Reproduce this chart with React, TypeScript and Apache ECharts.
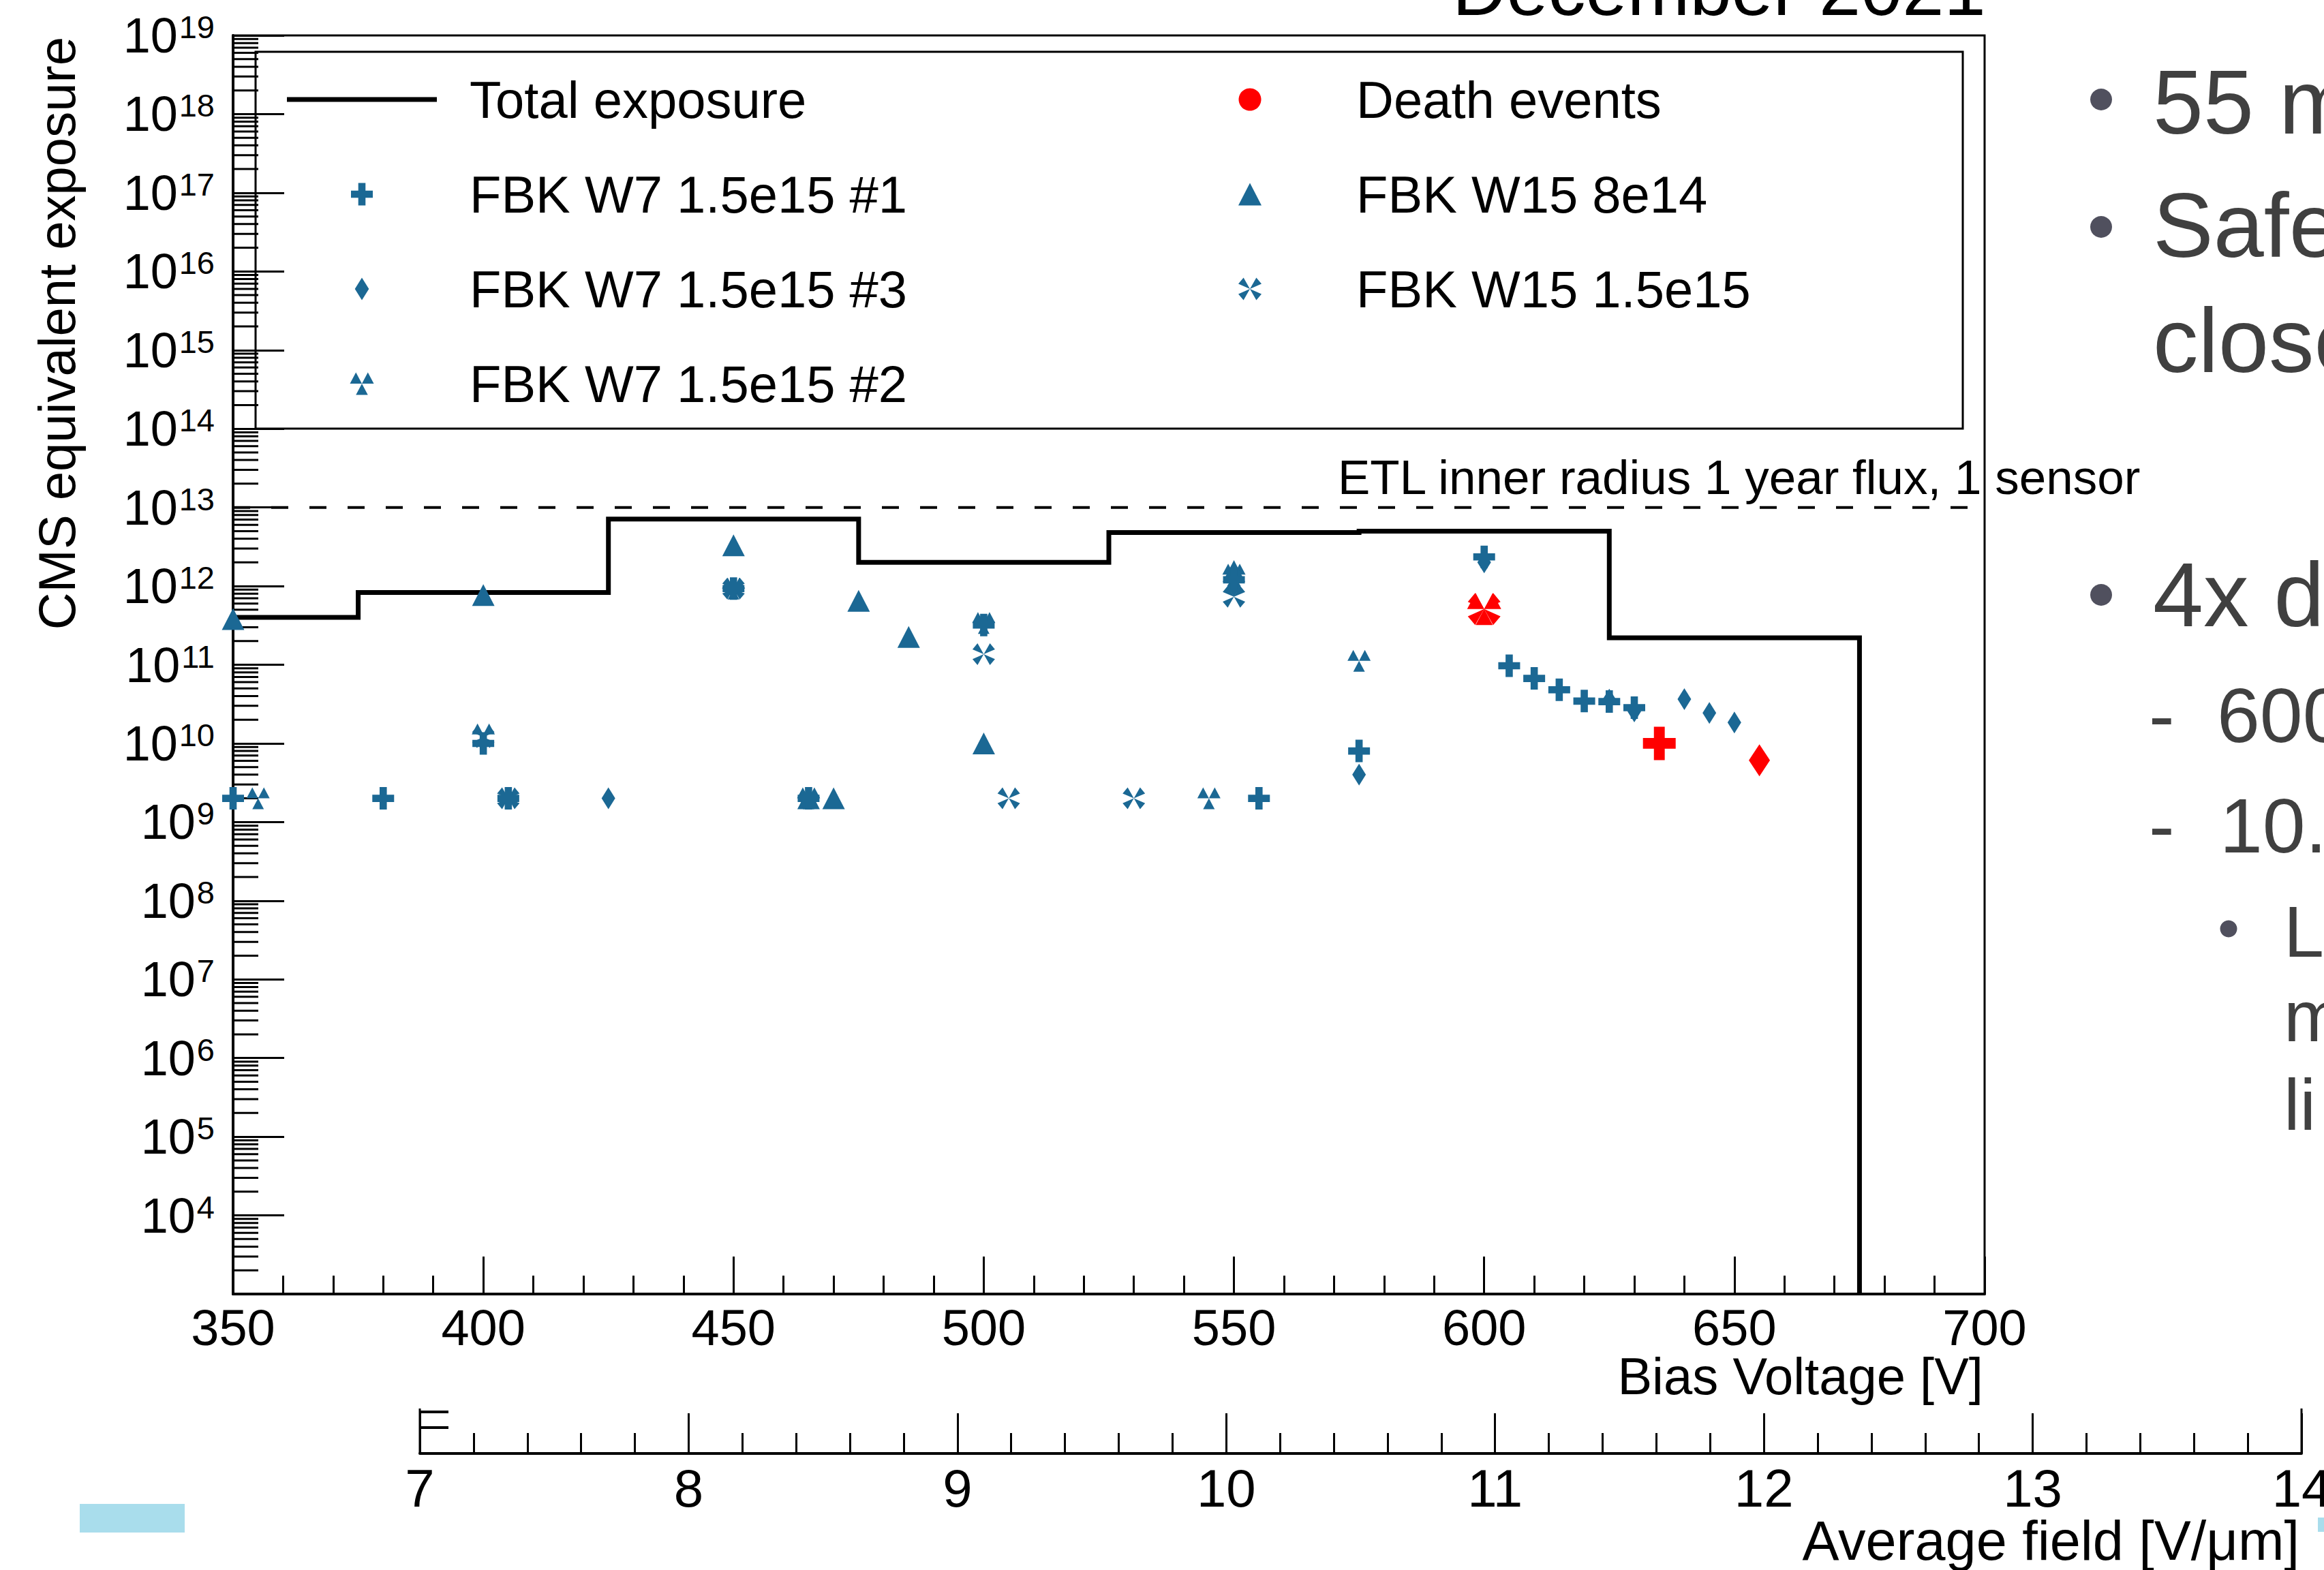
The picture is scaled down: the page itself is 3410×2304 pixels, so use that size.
import React, { useEffect, useRef } from "react";
import * as echarts from "echarts";

const FONT = "'Liberation Sans', Arial, Helvetica, sans-serif";
const BLUE = "#1b6894";
const RED = "#ff0000";
const GREY_TEXT = "#404040";
const GREY_DOT = "#50505e";

// ---- axes ----
const X_MIN = 350;
const X_MAX = 700;
const X_STEP = 50;
const FIELD_MIN = 7;
const FIELD_MAX = 14;
const Y_MIN = 1e3;
const Y_MAX = 1e19;
const Y_EXP_MIN = 3;
const Y_EXP_MAX = 19;

// ---- Total exposure histogram (bin edges in V, value per bin) ----
const BIN_EDGES = [350, 375, 425, 475, 525, 575, 625, 675];
const TOTAL_EXPOSURE = [4.0e11, 8.3e11, 7.1e12, 2.0e12, 4.8e12, 5.0e12, 2.2e11];

// ---- ETL reference ----
const ETL_FLUX = 1e13;

// ---- sensors [bias voltage, exposure] ----
const W7_1: [number, number][] = [
  [350, 2e9], [380, 2e9], [400, 1.0e10], [405, 2e9], [450, 9.3e11], [465, 2e9],
  [500, 3.2e11], [550, 1.2e12], [555, 2e9], [575, 8.0e9], [600, 2.35e12],
  [605, 9.7e10], [610, 6.7e10], [615, 4.8e10], [620, 3.45e10], [625, 3.4e10], [630, 2.85e10],
];
const W7_3: [number, number][] = [
  [405, 2e9], [425, 2e9], [450, 9.3e11], [550, 1.0e12], [575, 4.0e9], [600, 2.0e12],
  [625, 3.6e10], [630, 2.55e10], [640, 3.66e10], [645, 2.44e10], [650, 1.84e10],
];
const W7_2: [number, number][] = [
  [355, 2e9], [400, 1.3e10], [450, 9.3e11], [465, 2e9], [500, 3.4e11], [545, 2e9],
  [550, 1.4e12], [575, 1.12e11],
];
const W15_8E14: [number, number][] = [
  [350, 3.8e11], [400, 7.7e11], [450, 3.3e12], [465, 2e9], [470, 2e9], [475, 6.5e11],
  [485, 2.25e11], [500, 1.0e10], [550, 1.55e12],
];
const W15_15E15: [number, number][] = [
  [400, 1.2e10], [405, 2e9], [450, 9.3e11], [500, 1.36e11], [505, 2e9], [530, 2e9], [550, 7.3e11],
];

// ---- death events, by sensor ----
const DEATH_W15_15E15: [number, number][] = [[600, 5.1e11]];
const DEATH_W7_2: [number, number][] = [[600, 5.1e11]];
const DEATH_W7_1: [number, number][] = [[635, 1.0e10]];
const DEATH_W7_3: [number, number][] = [[655, 6.1e9]];

// ---- marker shapes ----
const PLUS = "path://M10.7 0H21.3V11.2H32V21.8H21.3V33H10.7V21.8H0V11.2H10.7Z";
const DIAMOND = "path://M10 0L20 16L10 32L0 16Z";
const TRIANGLE = "path://M16.5 0L33 32L0 32Z";
const TRI3 = "path://M8.5 0L17 16L0 16Z M25.5 0L34 16L17 16Z M17 16L25.5 32L8.5 32Z";
const XSHAPE =
  "path://M16.5 16L0 8.8L7.4 0Z M16.5 16L25.6 0L33 8.8Z M16.5 16L33 23.2L25.6 32Z M16.5 16L7.4 32L0 23.2Z";
const LINE_ICON = "path://M0 0H220V7H0Z";

// minor log ticks 2..9 x 10^n
const MINOR_Y_TICKS: number[] = [];
for (let e = Y_EXP_MIN; e < Y_EXP_MAX; e++) {
  for (let m = 2; m <= 9; m++) MINOR_Y_TICKS.push(m * Math.pow(10, e));
}

function buildOption(): any {
  const histData = BIN_EDGES.map((x, i) => [x, i < TOTAL_EXPOSURE.length ? TOTAL_EXPOSURE[i] : Y_MIN]);

  const scatter = (name: string, data: [number, number][], symbol: string, size: number[]) => ({
    type: "scatter",
    name,
    data,
    symbol,
    symbolSize: size,
    xAxisIndex: 0,
    yAxisIndex: 0,
    itemStyle: { color: BLUE, opacity: 1 },
    silent: true,
  });

  const deathData = [
    ...DEATH_W15_15E15.map((v) => ({ value: v, symbol: XSHAPE, symbolSize: [48, 47] })),
    ...DEATH_W7_2.map((v) => ({ value: v, symbol: TRI3, symbolSize: [50, 47] })),
    ...DEATH_W7_1.map((v) => ({ value: v, symbol: PLUS, symbolSize: [48, 49] })),
    ...DEATH_W7_3.map((v) => ({ value: v, symbol: DIAMOND, symbolSize: [31, 47] })),
  ];

  const legendCommon = {
    orient: "vertical",
    top: 106,
    padding: 0,
    itemWidth: 220,
    itemHeight: 33,
    itemGap: 59,
    selectedMode: false,
    textStyle: { fontSize: 76, fontFamily: FONT, color: "#000", lineHeight: 80, padding: [0, 0, 0, 43] },
  };

  const txt = (text: string, x: number, y: number, size: number, fill: string, align = "left") => ({
    type: "text",
    x,
    y,
    silent: true,
    style: { text, fontSize: size, fontFamily: FONT, fill, align, verticalAlign: "middle" },
  });
  const ln = (x1: number, y1: number, x2: number, y2: number, w: number) => ({
    type: "line",
    silent: true,
    shape: { x1, y1, x2, y2 },
    style: { stroke: "#000", lineWidth: w },
  });
  const dot = (cx: number, cy: number, r: number) => ({
    type: "circle",
    silent: true,
    shape: { cx, cy, r },
    style: { fill: GREY_DOT },
  });

  return {
    animation: false,
    backgroundColor: "#ffffff",
    textStyle: { fontFamily: FONT },
    grid: [
      {
        left: 342, top: 52, width: 2570, height: 1847, show: true, borderColor: "#000", borderWidth: 3,
        backgroundColor: "transparent", containLabel: false, outerBoundsMode: "none",
      },
      { left: 616, top: 2040, width: 2761, height: 93, show: false, containLabel: false, outerBoundsMode: "none" },
    ],
    xAxis: [
      {
        type: "value",
        gridIndex: 0,
        min: X_MIN,
        max: X_MAX,
        interval: X_STEP,
        position: "bottom",
        axisLine: { show: true, onZero: false, lineStyle: { color: "#000", width: 4 } },
        axisTick: { show: true, inside: true, length: 55, lineStyle: { color: "#000", width: 3 } },
        minorTick: { show: true, splitNumber: 5, length: 27, lineStyle: { color: "#000", width: 3 } },
        splitLine: { show: false },
        axisLabel: { fontSize: 74, fontFamily: FONT, color: "#000", margin: 12 },
      },
      {
        type: "value",
        gridIndex: 1,
        min: FIELD_MIN,
        max: FIELD_MAX,
        interval: 1,
        position: "bottom",
        axisLine: { show: true, onZero: false, lineStyle: { color: "#000", width: 4 } },
        axisTick: { show: true, inside: true, length: 59, lineStyle: { color: "#000", width: 3 } },
        minorTick: { show: true, splitNumber: 5, length: 30, lineStyle: { color: "#000", width: 3 } },
        splitLine: { show: false },
        axisLabel: { fontSize: 78, fontFamily: FONT, color: "#000", margin: 12 },
      },
    ],
    yAxis: [
      {
        type: "log",
        gridIndex: 0,
        logBase: 10,
        min: Y_MIN,
        max: Y_MAX,
        axisLine: { show: true, onZero: false, lineStyle: { color: "#000", width: 4 } },
        axisTick: { show: false },
        minorTick: { show: false },
        axisLabel: { show: false },
        splitLine: { show: false },
      },
      {
        type: "value",
        gridIndex: 0,
        position: "left",
        min: Y_EXP_MIN,
        max: Y_EXP_MAX,
        interval: 1,
        axisLine: { show: false },
        axisTick: { show: true, inside: true, length: 75, lineStyle: { color: "#000", width: 3 } },
        splitLine: { show: false },
        axisLabel: {
          margin: 27,
          formatter: (v: number) => (v === Y_EXP_MIN ? "" : `{b|10}{s|${v}}`),
          rich: {
            b: { fontSize: 72, lineHeight: 72, verticalAlign: "bottom", fontFamily: FONT, color: "#000" },
            s: { fontSize: 47, lineHeight: 47, verticalAlign: "top", padding: [0, 0, 48, 2], fontFamily: FONT, color: "#000" },
          },
        },
      },
      { type: "value", gridIndex: 1, min: 0, max: 1, show: false },
    ],
    legend: [
      {
        ...legendCommon,
        left: 421,
        data: [
          { name: "Total exposure", icon: LINE_ICON },
          { name: "FBK W7 1.5e15 #1", icon: PLUS },
          { name: "FBK W7 1.5e15 #3", icon: DIAMOND },
          { name: "FBK W7 1.5e15 #2", icon: TRI3 },
        ],
      },
      {
        ...legendCommon,
        left: 1817,
        textStyle: { ...legendCommon.textStyle, padding: [0, 0, 0, 41] },
        data: [
          { name: "Death events", icon: "circle" },
          { name: "FBK W15 8e14", icon: TRIANGLE },
          { name: "FBK W15 1.5e15", icon: XSHAPE },
        ],
      },
    ],
    series: [
      {
        type: "line",
        name: "Total exposure",
        xAxisIndex: 0,
        yAxisIndex: 0,
        data: histData,
        step: "end",
        symbol: "none",
        showSymbol: false,
        silent: true,
        itemStyle: { color: "#000" },
        lineStyle: { color: "#000", width: 7, cap: "butt", join: "miter" },
        z: 2,
      },
      {
        type: "line",
        name: "ETL flux",
        xAxisIndex: 0,
        yAxisIndex: 0,
        data: [[X_MIN, ETL_FLUX], [X_MAX, ETL_FLUX]],
        symbol: "none",
        silent: true,
        lineStyle: { color: "#000", width: 4, type: [25, 31] },
        z: 2,
      },
      {
        type: "custom",
        name: "minorTicks",
        xAxisIndex: 0,
        yAxisIndex: 0,
        silent: true,
        clip: false,
        data: MINOR_Y_TICKS.map((v) => [X_MIN, v]),
        renderItem: (params: any, api: any) => {
          const p = api.coord([api.value(0), api.value(1)]);
          return {
            type: "line",
            shape: { x1: p[0], y1: p[1], x2: p[0] + 37, y2: p[1] },
            style: { stroke: "#000", lineWidth: 3 },
          };
        },
        z: 2,
      },
      scatter("FBK W7 1.5e15 #2", W7_2, TRI3, [34, 32]),
      scatter("FBK W15 1.5e15", W15_15E15, XSHAPE, [33, 32]),
      scatter("FBK W7 1.5e15 #3", W7_3, DIAMOND, [20, 32]),
      scatter("FBK W15 8e14", W15_8E14, TRIANGLE, [33, 32]),
      scatter("FBK W7 1.5e15 #1", W7_1, PLUS, [32, 33]),
      {
        type: "scatter",
        name: "Death events",
        xAxisIndex: 0,
        yAxisIndex: 0,
        data: deathData,
        symbol: "circle",
        itemStyle: { color: RED, opacity: 1 },
        silent: true,
        z: 4,
      },
      { type: "scatter", name: "field", xAxisIndex: 1, yAxisIndex: 2, data: [], silent: true },
    ],
    graphic: {
      elements: [
        // legend frame
        {
          type: "rect",
          silent: true,
          shape: { x: 375, y: 76, width: 2505, height: 553 },
          style: { fill: "none", stroke: "#000", lineWidth: 3 },
        },
        // axis titles
        {
          type: "text",
          x: 83,
          y: 54,
          rotation: Math.PI / 2,
          silent: true,
          style: { text: "CMS equivalent exposure", fontSize: 76, fontFamily: FONT, fill: "#000", align: "right", verticalAlign: "middle" },
        },
        txt("Bias Voltage [V]", 2910, 2019, 76, "#000", "right"),
        txt("Average field [V/\u03bcm]", 3374, 2261, 81, "#000", "right"),
        txt("ETL inner radius 1 year flux, 1 sensor", 1963, 700, 71, "#000"),
        txt("December 2021", 2131, -17, 110, "#000"),
        // field axis end marks
        ln(616, 2067, 616, 2133, 3),
        ln(616, 2072, 658, 2072, 4),
        ln(616, 2095, 658, 2095, 4),
        ln(3377, 2067, 3377, 2133, 3),
        // slide text on the right
        dot(3083, 146, 16),
        txt("55 m", 3159, 150, 133, GREY_TEXT),
        dot(3083, 333, 16),
        txt("Safe", 3159, 331, 133, GREY_TEXT),
        txt("close", 3159, 500, 133, GREY_TEXT),
        dot(3083, 873, 16),
        txt("4x d", 3159, 873, 133, GREY_TEXT),
        txt("-", 3153, 1050, 113, GREY_TEXT),
        txt("600", 3253, 1050, 113, GREY_TEXT),
        txt("-", 3153, 1212, 113, GREY_TEXT),
        txt("10.", 3257, 1212, 113, GREY_TEXT),
        dot(3270, 1363, 12.5),
        txt("L", 3351, 1367, 106, GREY_TEXT),
        txt("m", 3351, 1491, 106, GREY_TEXT),
        txt("li", 3351, 1621, 106, GREY_TEXT),
        // slide decorations
        { type: "rect", silent: true, shape: { x: 117, y: 2207, width: 154, height: 42 }, style: { fill: "#a9ddec" } },
        { type: "rect", silent: true, shape: { x: 3401, y: 2227, width: 9, height: 21 }, style: { fill: "#a9ddec" } },
      ],
    },
  };
}

export default function App() {
  const ref = useRef<HTMLDivElement>(null);
  useEffect(() => {
    if (!ref.current) return;
    const chart = echarts.init(ref.current, null, { renderer: "svg" });
    chart.setOption(buildOption());
    return () => chart.dispose();
  }, []);
  return (
    <div
      ref={ref}
      style={{ position: "absolute", left: 0, top: 0, width: 3410, height: 2304, background: "#fff" }}
    />
  );
}
